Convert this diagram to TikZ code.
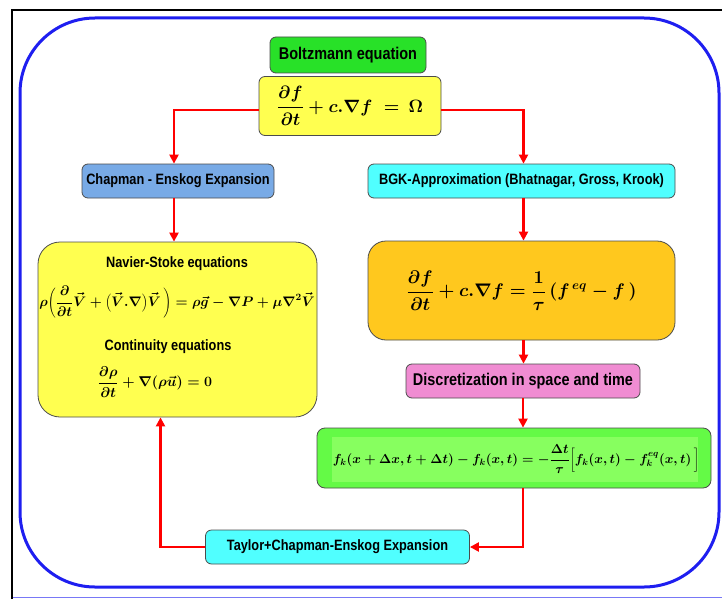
\RequirePackage{fix-cm}
\documentclass[tikz,border=0pt]{standalone}
\usepackage{fontspec}
\setmainfont{Liberation Serif}
\newfontfamily\labfont[FakeStretch=0.85]{Liberation Sans}
\usetikzlibrary{arrows.meta,calc}
\definecolor{cboltz}{RGB}{40,225,40}
\definecolor{cyel}{RGB}{255,255,80}
\definecolor{cchap}{RGB}{120,170,230}
\definecolor{ccyan}{RGB}{80,255,255}
\definecolor{corange}{RGB}{255,200,30}
\definecolor{cpink}{RGB}{240,140,210}
\definecolor{cgreen}{RGB}{100,250,70}
\definecolor{cgreenin}{RGB}{135,255,95}
\definecolor{cframe}{RGB}{30,30,240}
\newcommand{\eqBoltz}{$\displaystyle \frac{\partial f}{\partial t}+c.\nabla f\;=\,\Omega$}
\newcommand{\eqNS}{$\displaystyle \rho\!\left(\frac{\partial}{\partial t}\vec{V}+\left(\vec{V}.\nabla\right)\!\vec{V}\,\right)=\rho\vec{g}-\nabla P+\mu\nabla^{2}\vec{V}$}
\newcommand{\eqCont}{$\displaystyle \frac{\partial\rho}{\partial t}+\nabla\!\left(\rho\vec{u}\right)=0$}
\newcommand{\eqBGK}{$\displaystyle \frac{\partial f}{\partial t}+c.\nabla f=\frac{1}{\tau}\left(f^{\,eq}-f\,\right)$}
\newcommand{\eqLBE}{$\displaystyle f_{k}\!\left(x+\Delta x,t+\Delta t\right)-f_{k}\!\left(x,t\right)=-\frac{\Delta t}{\tau}\bigg[f_{k}\!\left(x,t\right)-f_{k}^{eq}\!\left(x,t\right)\bigg]$}
\tikzset{
  box/.style={draw=black!70, line width=0.8pt, rounded corners=6pt, inner sep=0pt},
  lab/.style={font=\labfont\bfseries\fontsize{15}{17}\selectfont, text=black},
  conn/.style={red, line width=2.2pt, -{Triangle[length=9pt,width=9pt]}},
  eqn/.style={inner sep=0pt, text=black}
}
\begin{document}
\begin{tikzpicture}[x=1pt,y=-1pt]
\useasboundingbox (0,0) rectangle (722,599);
\draw[black, line width=2.5pt] (12,599) -- (12,10) -- (722,10);
\draw[cframe!60, line width=1.5pt] (13,597.5) -- (722,597.5);
\draw[cframe, line width=3pt, rounded corners=75pt] (20,18) rectangle (719,587);
\node[box, fill=cboltz, minimum width=156pt, minimum height=36pt, lab, font=\labfont\bfseries\fontsize{17}{19}\selectfont] (boltz) at (348,55) {Boltzmann equation};
\node[box, fill=cyel, minimum width=182pt, minimum height=59pt, font=\fontsize{17.8}{21}\selectfont\boldmath] (eq1) at (350,106) {\eqBoltz};
\node[box, fill=cchap, minimum width=192pt, minimum height=34pt, lab] (chap) at (178,181) {Chapman - Enskog Expansion};
\node[box, fill=ccyan, minimum width=307pt, minimum height=34pt, lab] (bgk) at (521.5,181) {BGK-Approximation (Bhatnagar, Gross, Krook)};
\node[box, fill=cyel, rounded corners=22pt, minimum width=279pt, minimum height=175pt] (ns) at (177.5,329.5) {};
\node[lab, inner sep=0pt] (nst) at (177,264) {Navier-Stoke equations};
\node[eqn, font=\fontsize{13.8}{16}\selectfont\boldmath] (nse) at (177,302) {\eqNS};
\node[lab, inner sep=0pt] (cont) at (168,347) {Continuity equations};
\node[eqn, font=\fontsize{14.2}{17}\selectfont\boldmath] (conte) at (155,382) {\eqCont};
\node[box, fill=corange, rounded corners=18pt, minimum width=307pt, minimum height=99pt, font=\fontsize{18.2}{22}\selectfont\boldmath] (bgkeq) at (521.5,290.5) {\eqBGK};
\node[box, fill=cpink, minimum width=234pt, minimum height=34pt, lab, font=\labfont\bfseries\fontsize{17}{19}\selectfont] (disc) at (523,381) {Discretization in space and time};
\node[box, fill=cgreen, rounded corners=8pt, minimum width=394pt, minimum height=60pt] (lbe) at (514,458) {};
\node[fill=cgreenin, minimum width=366pt, minimum height=45pt, inner sep=0pt] (lbein) at (515,459.5) {};
\node[eqn, font=\fontsize{13.1}{16}\selectfont\boldmath] (lbee) at (516,459) {\eqLBE};
\node[box, fill=ccyan, minimum width=264pt, minimum height=34pt, lab] (taylor) at (337.5,547) {Taylor+Chapman-Enskog Expansion};
\draw[conn] ([yshift=-4pt]eq1.west) -| ([xshift=-4pt]chap.north);
\draw[conn] ([yshift=-4pt]eq1.east) -| ([xshift=2pt]bgk.north);
\draw[conn] ([xshift=-4pt]chap.south) -- ([xshift=-4pt]chap.south |- ns.north);
\draw[conn] ([xshift=2pt]bgk.south) -- ([xshift=2pt]bgk.south |- bgkeq.north);
\draw[conn] ([xshift=2pt]bgkeq.south) -- ([xshift=2pt]bgkeq.south |- disc.north);
\draw[conn] (disc.south) -- (disc.south |- lbe.north);
\draw[conn] (lbe.south -| disc.south) |- (taylor.east);
\draw[conn] (taylor.west) -| ([xshift=-17pt]ns.south);
\end{tikzpicture}
\end{document}
